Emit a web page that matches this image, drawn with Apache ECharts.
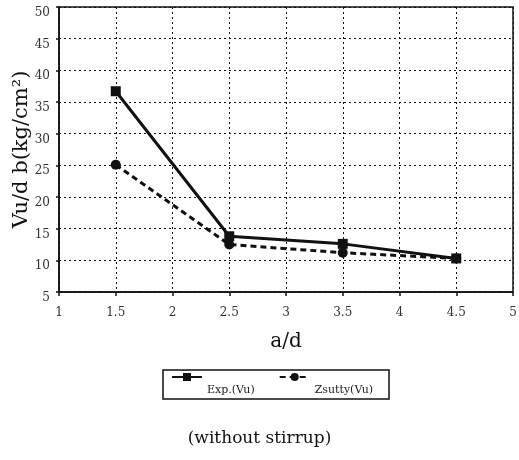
<!DOCTYPE html>
<html><head><meta charset="utf-8">
<script src="https://cdn.jsdelivr.net/npm/echarts@6/dist/echarts.min.js"></script>
<style>html,body{margin:0;padding:0;background:#fff}#c{width:519px;height:460px}</style>
</head><body><div id="c"></div>
<script>
const xValues = [1.5, 2.5, 3.5, 4.5];
const expVu = [36.7, 13.8, 12.6, 10.3];
const zsuttyVu = [25.1, 12.5, 11.2, 10.3];
const seriesNames = ['Exp.(Vu)', 'Zsutty(Vu)'];
const xAxisTitle = 'a/d';
const yAxisTitle = 'Vu/d b(kg/cm²)';
const chartTitle = '(without stirrup)';

const chart = echarts.init(document.getElementById('c'));
const serif = 'DejaVu Serif';
chart.setOption({
  backgroundColor: '#fff',
  animation: false,
  title: {
    text: chartTitle, left: 'center', top: 425,
    textStyle: {fontFamily: serif, fontWeight: 'normal', fontSize: 17, color: '#111'}
  },
  legend: {
    left: 163, top: 370, width: 221,
    data: seriesNames,
    borderColor: '#111', borderWidth: 1.5, borderRadius: 0,
    padding: [3, 16, 3, 8], itemGap: 24, itemWidth: 30, itemHeight: 10,
    formatter: n => '{t|' + n + '}',
    textStyle: {
      fontFamily: serif, fontSize: 11, color: '#222',
      rich: {t: {fontFamily: serif, fontSize: 11, color: '#222', padding: [27, 0, 0, 0]}}
    }
  },
  grid: {left: 59, right: 6, top: 7, bottom: 168, outerBoundsMode: 'none', containLabel: false, show: true, borderColor: '#111', borderWidth: 1.5, backgroundColor: '#fff'},
  xAxis: {
    type: 'value', min: 1, max: 5, interval: 0.5,
    name: xAxisTitle, nameLocation: 'middle', nameGap: 40, nameMoveOverlap: false,
    nameTextStyle: {fontFamily: serif, fontSize: 20, color: '#111'},
    axisLine: {lineStyle: {color: '#111', width: 1.5}},
    axisTick: {show: true, inside: false, length: 4, lineStyle: {color: '#111', width: 1.5}},
    axisLabel: {fontFamily: serif, fontSize: 12, color: '#333', margin: 15, verticalAlign: 'top'},
    splitLine: {show: true, lineStyle: {color: '#111', type: [2, 3], width: 1}}
  },
  yAxis: {
    type: 'value', min: 5, max: 50, interval: 5,
    name: yAxisTitle, nameLocation: 'middle', nameGap: 27, nameRotate: 90, nameMoveOverlap: false,
    nameTextStyle: {fontFamily: serif, fontSize: 21, color: '#111'},
    axisLine: {lineStyle: {color: '#111', width: 1.5}},
    axisTick: {show: true, length: 3, lineStyle: {color: '#111', width: 1.5}},
    axisLabel: {fontFamily: serif, fontSize: 12, color: '#333', margin: 9, verticalAlign: 'top'},
    splitLine: {show: true, lineStyle: {color: '#111', type: [2, 3], width: 1}}
  },
  series: [
    {
      name: seriesNames[0], type: 'line',
      data: xValues.map((x, i) => [x, expVu[i]]),
      symbol: 'rect', symbolSize: 10,
      lineStyle: {color: '#111', width: 3},
      itemStyle: {color: '#111'}
    },
    {
      name: seriesNames[1], type: 'line',
      data: xValues.map((x, i) => [x, zsuttyVu[i]]),
      symbol: 'circle', symbolSize: 10,
      lineStyle: {color: '#111', width: 3, type: [6, 4]},
      itemStyle: {color: '#111'}
    }
  ]
});
</script></body></html>
